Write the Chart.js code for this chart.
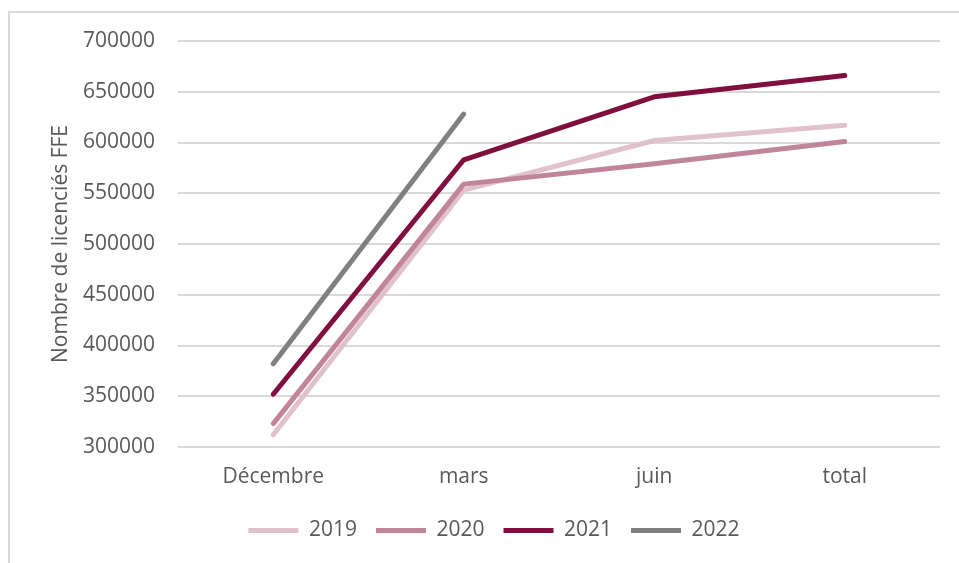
<!DOCTYPE html>
<html lang="fr">
<head>
<meta charset="utf-8">
<title>Licenciés FFE</title>
<script src="https://cdn.jsdelivr.net/npm/chart.js@4/dist/chart.umd.min.js"></script>
<style>
  html, body { margin: 0; padding: 0; background: #fff; overflow: hidden; }
  .frame {
    position: absolute; left: 8px; top: 11px; width: 1000px; height: 600px;
    border-left: 2px solid #d9d9d9; border-top: 2px solid #d9d9d9;
  }
  .chart-box { position: absolute; left: 0; top: 0; width: 959px; height: 563px; }
</style>
</head>
<body>
<div class="frame"></div>
<div class="chart-box"><canvas id="licChart"></canvas></div>
<script>
// number of FFE licence holders at each point of the season
const periods = ["Décembre", "mars", "juin", "total"];
const years = ["2019", "2020", "2021", "2022"];
const lic2019 = [312000, 553000, 602000, 617000];
const lic2020 = [323000, 559000, 579000, 601000];
const lic2021 = [352000, 583000, 645000, 666000];
const lic2022 = [382000, 628000];
const yTicks = [300000, 350000, 400000, 450000, 500000, 550000, 600000, 650000, 700000];

const colors = ["#e1c1cc", "#c1859b", "#800e3e", "#808080"];
const series = [lic2019, lic2020, lic2021, lic2022];

const textColor = "#595959";
const gridColor = "#d9d9d9";

const datasets = series.map((vals, i) => ({
  label: years[i],
  data: vals,
  borderColor: colors[i],
  backgroundColor: colors[i],
  borderWidth: 5,
  borderCapStyle: "round",
  borderJoinStyle: "round",
  pointRadius: 0,
  pointHoverRadius: 0,
  tension: 0,
  fill: false,
  order: series.length - i   // later years drawn on top
}));

new Chart(document.getElementById("licChart"), {
  type: "line",
  data: { labels: periods, datasets: datasets },
  options: {
    responsive: true,
    maintainAspectRatio: false,
    animation: false,
    layout: { padding: { left: 48, right: 19, top: 41, bottom: 12 } },
    plugins: {
      tooltip: { enabled: false },
      legend: {
        position: "bottom",
        labels: {
          usePointStyle: true,
          pointStyle: "line",
          pointStyleWidth: 50,
          padding: 19,
          color: textColor,
          font: { family: "'Open Sans'", size: 21 },
          sort: (a, b) => a.datasetIndex - b.datasetIndex
        }
      }
    },
    scales: {
      x: {
        offset: true,
        grid: { display: false, drawTicks: false },
        border: { display: false },
        ticks: {
          color: textColor,
          padding: 17,
          font: { family: "'Open Sans'", size: 21 }
        },
        afterFit: s => { s.height = 54; }
      },
      y: {
        min: yTicks[0],
        max: yTicks[yTicks.length - 1],
        afterBuildTicks: s => { s.ticks = yTicks.map(v => ({ value: v })); },
        grid: { color: gridColor, lineWidth: 2, drawTicks: false },
        border: { display: false },
        ticks: {
          color: textColor,
          padding: 23,
          font: { family: "'Open Sans'", size: 21 },
          callback: v => String(v)
        },
        title: {
          display: true,
          text: "Nombre de licenciés FFE",
          color: textColor,
          padding: { top: 0, bottom: 0 },
          font: { family: "'Open Sans'", size: 21 }
        },
        afterFit: s => { s.width = 130; }
      }
    }
  }
});
</script>
</body>
</html>
